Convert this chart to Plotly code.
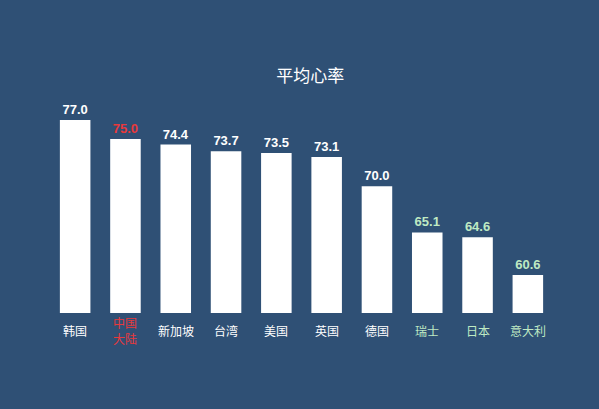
import plotly.graph_objects as go

regions = ["韩国", "中国大陆", "新加坡", "台湾", "美国", "英国", "德国", "瑞士", "日本", "意大利"]
tick_labels = ["韩国", "中国<br>大陆", "新加坡", "台湾", "美国", "英国", "德国", "瑞士", "日本", "意大利"]
heart_rate = [77.0, 75.0, 74.4, 73.7, 73.5, 73.1, 70.0, 65.1, 64.6, 60.6]

white = "#ffffff"
red = "#e8393c"
green = "#bfeac3"
label_colors = [white, red, white, white, white, white, white, green, green, green]

bg = "#2f5075"

fig = go.Figure()
fig.add_trace(go.Bar(
    x=regions,
    y=heart_rate,
    marker_color="white",
    marker_line_width=0,
    text=[f"{v:.1f}" for v in heart_rate],
    textposition="outside",
    textfont=dict(family="Liberation Sans, Arial", size=13, color=label_colors, weight="bold"),
    cliponaxis=False,
))

# category labels, centred vertically below each bar
for r, t, c in zip(regions, tick_labels, label_colors):
    fig.add_annotation(
        x=r, y=-0.08, xref="x", yref="paper",
        text=t, showarrow=False, yanchor="middle",
        font=dict(family="Noto Sans CJK SC", size=12, color=c),
    )

fig.update_layout(
    width=599, height=409,
    paper_bgcolor=bg, plot_bgcolor=bg,
    margin=dict(l=50, r=46, t=100, b=96),
    bargap=0.393,
    showlegend=False,
    title=dict(text="平均心率", x=0.518, xanchor="center", y=1 - 76 / 409, yanchor="middle",
               font=dict(family="Noto Sans CJK SC", size=17, color="white")),
)
fig.update_xaxes(showticklabels=False, showgrid=False, zeroline=False, showline=False, ticks="")
fig.update_yaxes(range=[56.58, 79.12], visible=False)

fig.write_html("out.html", config={"displayModeBar": False},
               post_script="document.body.style.margin='0';")
